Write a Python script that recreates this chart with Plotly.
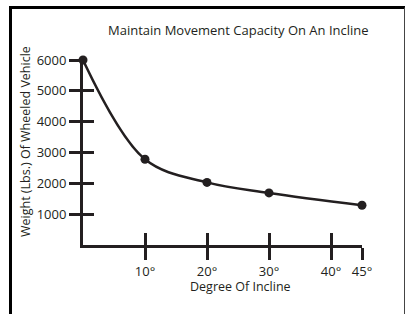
import plotly.graph_objects as go

degrees = [0, 10, 20, 30, 45]
weights = [6000, 2780, 2030, 1690, 1290]
x_ticks = [10, 20, 30, 40, 45]
x_tick_labels = ["10°", "20°", "30°", "40°", "45°"]
y_ticks = [1000, 2000, 3000, 4000, 5000, 6000]
y_tick_labels = ["1000", "2000", "3000", "4000", "5000", "6000"]

INK = "#231f20"
FONT = "Open Sans"

W, H = 410, 314
L, R, T, B = 83, 48, 60, 69
pw, ph = W - L - R, H - T - B

def px(xp):
    return (xp - L) / pw

def py(yp):
    return (H - B - yp) / ph

fig = go.Figure()
fig.add_trace(go.Scatter(
    x=degrees, y=weights, mode="lines+markers",
    line=dict(color=INK, width=2.5, shape="spline", smoothing=1.0),
    marker=dict(color=INK, size=9),
    cliponaxis=False, showlegend=False, hoverinfo="x+y",
))
# invisible trace for the overlay axes carrying inner tick halves
fig.add_trace(go.Scatter(
    x=degrees, y=weights, xaxis="x2", yaxis="y2", mode="markers",
    marker=dict(opacity=0), showlegend=False, hoverinfo="skip",
))

axis_common = dict(showgrid=False, zeroline=False, tickcolor=INK, tickwidth=3,
                   tickfont=dict(family=FONT, size=13, color=INK))

fig.update_layout(
    width=W, height=H,
    margin=dict(l=L, r=R, t=T, b=B),
    paper_bgcolor="white", plot_bgcolor="white",
    xaxis=dict(range=[0, 45], tickmode="array", tickvals=x_ticks, ticktext=x_tick_labels,
               ticks="outside", ticklen=12, showline=True, linecolor=INK, linewidth=3,
               **axis_common),
    yaxis=dict(range=[0, 6000], tickmode="array", tickvals=y_ticks, ticktext=y_tick_labels,
               ticks="outside", ticklen=11, showline=True, linecolor=INK, linewidth=3,
               **axis_common),
    xaxis2=dict(overlaying="x", matches="x", anchor="y2", tickmode="array", tickvals=x_ticks,
                ticks="inside", ticklen=12, showticklabels=False, showline=False, **axis_common),
    yaxis2=dict(overlaying="y", matches="y", anchor="x2", tickmode="array", tickvals=y_ticks,
                ticks="inside", ticklen=11, showticklabels=False, showline=False, **axis_common),
    font=dict(family=FONT, color=INK),
    annotations=[
        dict(text="Maintain Movement Capacity On An Incline", xref="paper", yref="paper",
             x=px(239), y=py(30), xanchor="center", yanchor="middle", showarrow=False,
             font=dict(family=FONT, size=13, color=INK)),
        dict(text="Weight (Lbs.) Of Wheeled Vehicle", xref="paper", yref="paper",
             x=px(25), y=py(142), xanchor="center", yanchor="middle", textangle=-90,
             showarrow=False, font=dict(family=FONT, size=12.5, color=INK)),
        dict(text="Degree Of Incline", xref="paper", yref="paper",
             x=px(240), y=py(286), xanchor="center", yanchor="middle", showarrow=False,
             font=dict(family=FONT, size=12.5, color=INK)),
    ],
    shapes=[
        dict(type="line", xref="paper", yref="paper", x0=px(10.5), x1=px(10.5),
             y0=py(6), y1=py(330), line=dict(color="black", width=3)),
        dict(type="line", xref="paper", yref="paper", x0=px(9), x1=px(405),
             y0=py(7.5), y1=py(7.5), line=dict(color="black", width=3)),
        dict(type="line", xref="paper", yref="paper", x0=px(404.5), x1=px(404.5),
             y0=py(7.5), y1=py(330), line=dict(color="#444444", width=1)),
    ],
)

fig.write_html("out.html", config={"displayModeBar": False},
               post_script="document.body.style.margin='0';")
